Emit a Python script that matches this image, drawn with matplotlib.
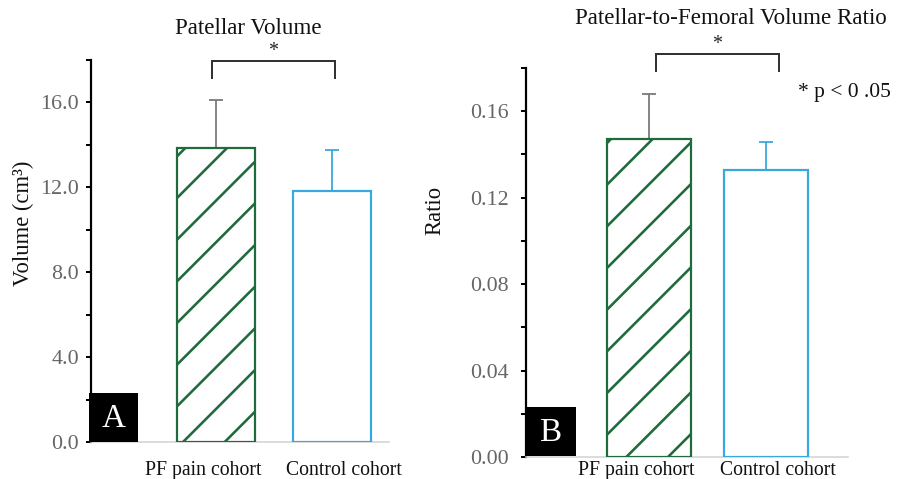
import matplotlib
matplotlib.use("Agg")
import matplotlib.pyplot as plt
import matplotlib.transforms as mtransforms
from matplotlib.patches import Rectangle
from matplotlib.ticker import MultipleLocator, FormatStrFormatter

# ---- data ----
categories = ["PF pain cohort", "Control cohort"]
volume_means = [13.85, 11.85]
volume_sd = [2.25, 1.9]
ratio_means = [0.147, 0.133]
ratio_sd = [0.021, 0.0128]
titles = ["Patellar Volume", "Patellar-to-Femoral Volume Ratio"]
ylabels = ["Volume (cm\u00b3)", "Ratio"]
panel_letters = ["A", "B"]

W, H = 902, 479
DPI = 250
PT = 72.0 / DPI  # px -> pt

plt.rcParams['font.family'] = ['Liberation Serif', 'DejaVu Serif']
plt.rcParams['hatch.linewidth'] = 2.6 * PT
plt.rcParams['hatch.color'] = '#1f6b3d'

fig = plt.figure(figsize=(W / DPI, H / DPI), dpi=DPI)

GREEN = '#1f6b3d'
BLUE = '#38a9de'
GRAY_ERR = '#7a7a7a'
TICK_COL = '#666666'


def fx(px):
    return px / W


def fy(py):
    return 1 - py / H


def make_panel(rect, means, sds, ylim, major, fmt, width, xlim, bracket,
               label_pad):
    ax = fig.add_axes(rect)
    x = list(range(len(categories)))
    ax.bar(x[0], means[0], width=width, facecolor='white', edgecolor=GREEN,
           linewidth=2.2 * PT, hatch='//', zorder=3)
    ax.bar(x[1], means[1], width=width, facecolor='white', edgecolor=BLUE,
           linewidth=2.2 * PT, zorder=3)
    ax.errorbar([x[0]], [means[0]], yerr=[[0], [sds[0]]], fmt='none',
                ecolor=GRAY_ERR, elinewidth=1.8 * PT, capsize=7.5 * PT,
                capthick=1.8 * PT, zorder=1)
    ax.errorbar([x[1]], [means[1]], yerr=[[0], [sds[1]]], fmt='none',
                ecolor=BLUE, elinewidth=1.8 * PT, capsize=7.5 * PT,
                capthick=1.8 * PT, zorder=1)
    ax.set_ylim(*ylim)
    ax.set_xlim(*xlim)
    ax.yaxis.set_major_locator(MultipleLocator(major))
    ax.yaxis.set_minor_locator(MultipleLocator(major / 2))
    ax.yaxis.set_major_formatter(FormatStrFormatter(fmt))
    for s in ['top', 'right']:
        ax.spines[s].set_visible(False)
    ax.spines['left'].set_linewidth(2.2 * PT)
    ax.spines['left'].set_color('black')
    ax.spines['bottom'].set_linewidth(1.6 * PT)
    ax.spines['bottom'].set_color('#d4d4d4')
    ax.tick_params(axis='y', which='both', direction='out', length=5 * PT,
                   width=2.0 * PT, color='black', labelsize=22 * PT,
                   labelcolor=TICK_COL, pad=label_pad[0])
    ax.tick_params(axis='x', which='both', length=0, labelsize=19.7 * PT,
                   labelcolor='#111111', pad=label_pad[1])
    ax.set_xticks(x)
    ax.set_xticklabels(categories)
    offsets = [-13, 12]
    for lab, off in zip(ax.get_xticklabels(), offsets):
        lab.set_transform(lab.get_transform() + mtransforms.ScaledTranslation(
            off / DPI, 0, fig.dpi_scale_trans))
    # significance bracket
    bx0, bx1, ytop, ybot, sx = bracket
    ax.plot([bx0, bx0, bx1, bx1], [ybot, ytop, ytop, ybot], color='#333333',
            lw=2.0 * PT, clip_on=False, solid_joinstyle='miter')
    ax.text(sx, ytop, '*', ha='center', va='bottom', fontsize=20 * PT,
            color='#222222', clip_on=False)
    return ax


# Panel A
axA = make_panel([fx(91), 1 - 442 / H, fx(389) - fx(91), (442 - 60) / H],
                 volume_means, volume_sd, (0, 18), 4, '%.1f', 0.67,
                 (-1.08, 1.49), (-0.035, 1.02, 17.93, 17.13, 0.49),
                 (2.0, 5.5))
# Panel B
axB = make_panel([fx(526), 1 - 457 / H, fx(848) - fx(526), (457 - 68) / H],
                 ratio_means, ratio_sd, (0, 0.18), 0.04, '%.2f', 0.72,
                 (-1.05, 1.70), (0.06, 1.11, 0.1867, 0.1784, 0.585),
                 (3.5, 1.2))

# titles
fig.text(fx(248), fy(28), titles[0], ha='center', va='center',
         fontsize=23 * PT, color='#111111')
fig.text(fx(731), fy(19), titles[1], ha='center', va='center',
         fontsize=23 * PT, color='#111111')

# y labels
fig.text(fx(23), fy(223), ylabels[0], ha='center', va='center', rotation=90,
         fontsize=22.6 * PT, color='#111111')
fig.text(fx(435), fy(210), ylabels[1], ha='center', va='center', rotation=90,
         fontsize=22.6 * PT, color='#111111')

# p-value note
fig.text(fx(798), fy(92), '* p < 0 .05', ha='left', va='center',
         fontsize=21.5 * PT, color='#111111')

# panel letter boxes
for (x0, y0, x1, y1), letter in zip([(89, 393, 138, 442), (527, 407, 576, 456)],
                                    panel_letters):
    fig.patches.append(Rectangle((fx(x0), fy(y1)), fx(x1) - fx(x0),
                                 fy(y0) - fy(y1), transform=fig.transFigure,
                                 facecolor='black', edgecolor='none',
                                 zorder=5))
    fig.text(fx((x0 + x1) / 2), fy((y0 + y1) / 2 + 1), letter, ha='center',
             va='center', color='white', fontsize=33 * PT, zorder=6)

fig.savefig('out.png', dpi=DPI)
